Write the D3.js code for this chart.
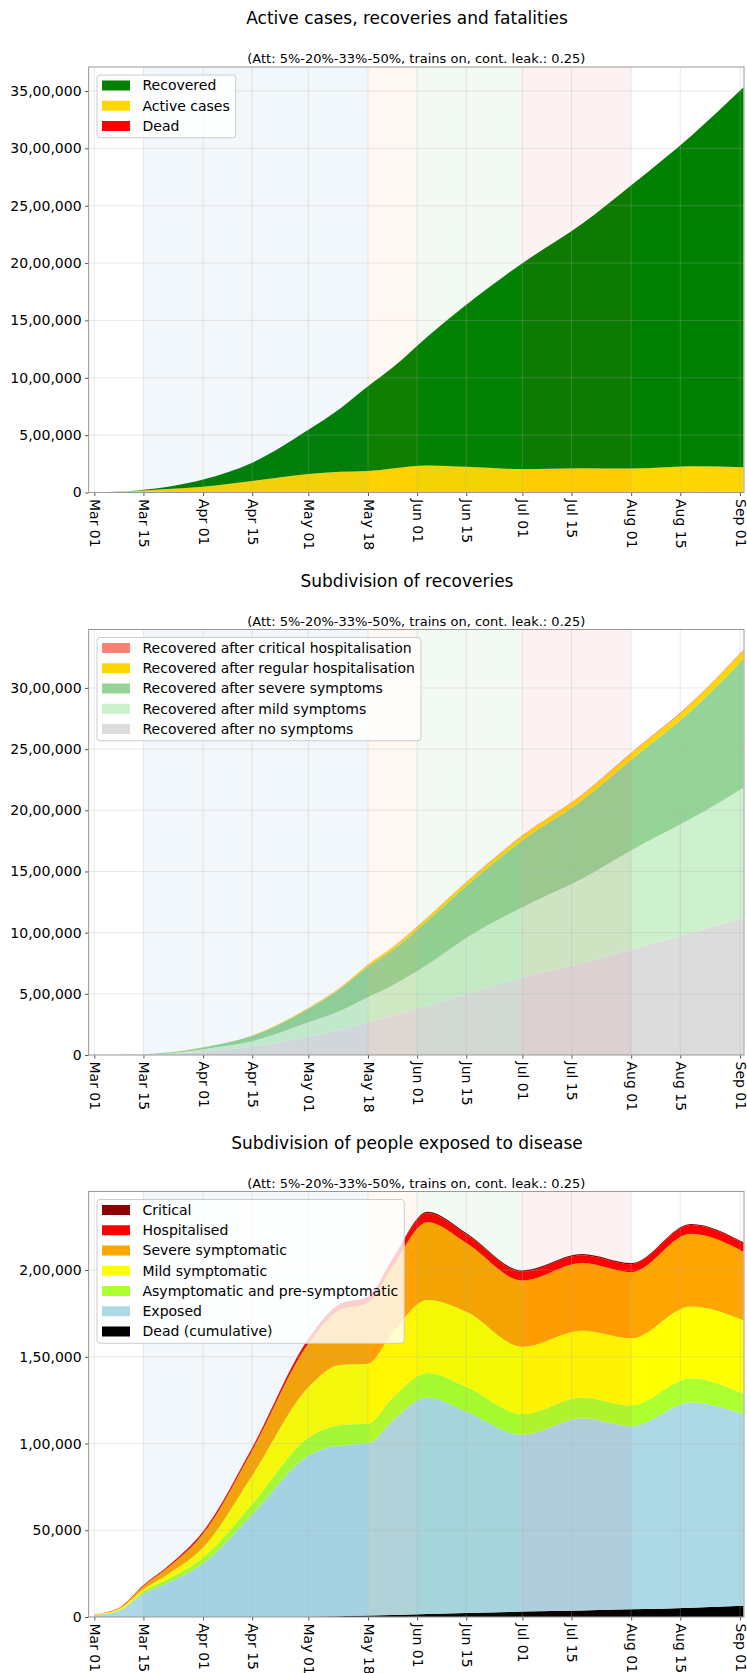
<html>
<head>
<meta charset="utf-8">
<script src="https://d3js.org/d3.v7.min.js"></script>
<style>
body { margin: 0; background: #fff; }
text { font-family: "DejaVu Sans", sans-serif; fill: #000; }
</style>
</head>
<body>
<div id="charts"></div>
<script>
const dates = ["2020-03-01","2020-03-08","2020-03-15","2020-03-22","2020-04-01","2020-04-15","2020-05-01","2020-05-10","2020-05-18",
               "2020-05-25","2020-06-04","2020-06-15","2020-07-01","2020-07-18","2020-08-01","2020-08-18","2020-09-02"];

// chart 1 : active cases, recoveries and fatalities
const dead      = [0,0,0,0,0,50,200,500,900,1200,1700,2300,3100,3800,4400,5400,6500];
const active    = [1600,5200,18500,29500,50000,100000,162000,180000,186000,208000,234000,222000,201000,208000,204000,224000,214000];
const recovered = [0,300,5000,20000,63000,160000,385000,550000,739000,880000,1125000,1413000,1795000,2130000,2470000,2877000,3312000];

// chart 2 : subdivision of recoveries
const recNoSymptoms = [0,0,2000,7000,30000,68000,150000,205000,267000,320000,400000,499000,635000,750000,862000,995000,1121000];
const recMild       = [0,100,1500,6000,18000,44000,117000,155000,205000,250000,340000,458000,573000,690000,810000,935000,1064000];
const recSevere     = [0,200,1400,6600,13800,44500,110000,178500,251000,290700,360000,424200,546200,641400,741500,881500,1052400];
const recRegular    = [0,0,100,300,1000,3000,7000,10000,14000,17000,22000,28000,36000,43000,50000,58000,66000];
const recCritical   = [0,0,0,100,200,500,1000,1500,2000,2300,3000,3800,4800,5600,6500,7500,8600];

// chart 3 : subdivision of people exposed to disease
const exposed   = [1000,3500,13500,19800,30800,59000,92800,98500,99100,112100,124800,116000,101900,110700,105600,118300,110500];
const asymp     = [100,500,1500,2000,3500,6000,10300,11600,11500,13100,14200,14400,12000,12100,12000,13900,11500];
const mildSymp  = [200,500,1000,2900,5700,16500,29100,34700,34500,37600,42100,43300,38800,38400,38700,41400,42500];
const sevSymp   = [200,500,1900,3800,8000,14500,25200,31700,35000,38000,44700,39600,38200,39000,38100,41900,39600];
const hospital  = [100,200,500,800,1200,1400,2300,2800,3000,3800,5300,5000,5000,4500,4500,5000,4700];
const critical  = [0,0,50,100,200,300,500,600,600,700,800,800,800,700,700,700,700];

// axis ticks
const xTicks = ["2020-03-01","2020-03-15","2020-04-01","2020-04-15","2020-05-01","2020-05-18","2020-06-01",
                "2020-06-15","2020-07-01","2020-07-15","2020-08-01","2020-08-15","2020-09-01"];
const yTicks1 = [0,500000,1000000,1500000,2000000,2500000,3000000,3500000];
const yTicks2 = [0,500000,1000000,1500000,2000000,2500000,3000000];
const yTicks3 = [0,50000,100000,150000,200000];

// lockdown phases shaded in the background
const phaseStart = ["2020-03-15","2020-05-18","2020-06-01","2020-07-01"];
const phaseEnd   = ["2020-05-18","2020-06-01","2020-07-01","2020-08-01"];
const phaseColor = ["#1f77b4","#ff7f0e","#2ca02c","#d62728"];

const subtitle = "(Att: 5%-20%-33%-50%, trains on, cont. leak.: 0.25)";

const parse = d3.timeParse("%Y-%m-%d");
const left = 88.6, right = 744, h = 425.5;

const svg = d3.select("#charts").append("svg")
    .attr("width", 747)
    .attr("height", 1673);

const x = d3.scaleTime()
    .domain([new Date(2020,1,28,9), new Date(2020,8,2,3,36)])
    .range([left, right]);

// 35,00,000 style grouping
function fmtIN(v) {
  let s = String(Math.round(v));
  if (s.length <= 3) return s;
  let rest = s.slice(0, -3).replace(/\B(?=(\d{2})+(?!\d))/g, ",");
  return rest + "," + s.slice(-3);
}

function drawChart(idx, top, title, layers, names, colors, yTicks) {
  const g = svg.append("g").attr("transform", "translate(0," + top + ")");

  const rows = dates.map((d, i) => {
    const r = {date: parse(d)};
    layers.forEach((l, j) => r[j] = l[i]);
    return r;
  });
  const series = d3.stack().keys(layers.map((l, j) => j))(rows);
  const ymax = d3.max(series[series.length - 1], d => d[1]) * 1.05;
  const y = d3.scaleLinear().domain([0, ymax]).range([h, 0]);

  g.append("clipPath").attr("id", "clip" + idx)
    .append("rect").attr("x", left).attr("y", 0).attr("width", right - left).attr("height", h);

  const plot = g.append("g").attr("clip-path", "url(#clip" + idx + ")");

  const area = d3.area()
    .x(d => x(d.data.date))
    .y0(d => y(d[0]))
    .y1(d => y(d[1]))
    .curve(d3.curveMonotoneX);

  plot.selectAll("path.layer")
    .data(series)
    .enter()
    .append("path")
    .attr("class", "layer")
    .attr("d", area)
    .style("fill", (d, i) => colors[i]);

  // phase bands over the areas
  plot.selectAll("rect.band")
    .data(phaseStart)
    .enter()
    .append("rect")
    .attr("x", d => x(parse(d)))
    .attr("width", (d, i) => x(parse(phaseEnd[i])) - x(parse(d)))
    .attr("y", 0)
    .attr("height", h)
    .style("fill", (d, i) => phaseColor[i])
    .style("fill-opacity", 0.06);

  // grid
  plot.selectAll("line.vg")
    .data(xTicks)
    .enter()
    .append("line")
    .attr("x1", d => x(parse(d))).attr("x2", d => x(parse(d)))
    .attr("y1", 0).attr("y2", h)
    .style("stroke", "#b0b0b0").style("stroke-opacity", 0.35).style("stroke-width", 0.8);
  plot.selectAll("line.hg")
    .data(yTicks)
    .enter()
    .append("line")
    .attr("x1", left).attr("x2", right)
    .attr("y1", d => y(d)).attr("y2", d => y(d))
    .style("stroke", "#b0b0b0").style("stroke-opacity", 0.35).style("stroke-width", 0.8);

  // axes
  const ya = g.append("g").attr("transform", "translate(" + left + ",0)")
    .call(d3.axisLeft(y).tickValues(yTicks).tickFormat(fmtIN).tickSize(3.5).tickPadding(3.5));
  const xa = g.append("g").attr("transform", "translate(0," + h + ")")
    .call(d3.axisBottom(x).tickValues(xTicks.map(parse)).tickFormat(d3.timeFormat("%b %d")).tickSize(3.5));
  [ya, xa].forEach(a => {
    a.select(".domain").remove();
    a.selectAll("line").style("stroke", "#555");
    a.selectAll("text").style("font-size", "14px").style("font-family", "DejaVu Sans").style("fill", "#000");
  });
  xa.selectAll("text")
    .attr("transform", "rotate(90)")
    .attr("x", 6.5)
    .attr("y", 0)
    .attr("dy", "0.35em")
    .style("text-anchor", "start");

  g.append("rect")
    .attr("x", left).attr("y", 0).attr("width", right - left).attr("height", h)
    .style("fill", "none").style("stroke", "#999").style("stroke-width", 1);

  // titles
  g.append("text")
    .attr("x", 407).attr("y", -43)
    .style("text-anchor", "middle").style("font-size", "17px")
    .text(title);
  g.append("text")
    .attr("x", (left + right) / 2).attr("y", -4)
    .style("text-anchor", "middle").style("font-size", "13px")
    .text(subtitle);

  // legend, top layer first
  const leg = g.append("g").attr("transform", "translate(97,8)");
  const box = leg.append("rect")
    .attr("rx", 3)
    .style("fill", "#fff").style("fill-opacity", 0.8)
    .style("stroke", "#ccc").style("stroke-width", 1);
  const order = names.map((n, i) => i).reverse();
  let wmax = 0;
  order.forEach((k, r) => {
    const cy = 10.5 + r * 20.25;
    leg.append("rect")
      .attr("x", 5).attr("y", cy - 5).attr("width", 28).attr("height", 10)
      .style("fill", colors[k]);
    const t = leg.append("text")
      .attr("x", 45.5).attr("y", cy).attr("dy", "0.35em")
      .style("font-size", "14px")
      .text(names[k]);
    wmax = Math.max(wmax, t.node().getComputedTextLength());
  });
  box.attr("width", 45.5 + wmax + 6).attr("height", order.length * 20.25 + 2);
}

drawChart(1, 67, "Active cases, recoveries and fatalities",
  [dead, active, recovered],
  ["Dead", "Active cases", "Recovered"],
  ["#ff0000", "#ffd700", "#008000"], yTicks1);

drawChart(2, 629.5, "Subdivision of recoveries",
  [recNoSymptoms, recMild, recSevere, recRegular, recCritical],
  ["Recovered after no symptoms", "Recovered after mild symptoms", "Recovered after severe symptoms",
   "Recovered after regular hospitalisation", "Recovered after critical hospitalisation"],
  ["#dcdcdc", "#cdf0cd", "#96d396", "#ffd700", "#fa8072"], yTicks2);

drawChart(3, 1191.5, "Subdivision of people exposed to disease",
  [dead, exposed, asymp, mildSymp, sevSymp, hospital, critical],
  ["Dead (cumulative)", "Exposed", "Asymptomatic and pre-symptomatic", "Mild symptomatic",
   "Severe symptomatic", "Hospitalised", "Critical"],
  ["#000000", "#add8e6", "#adff2f", "#ffff00", "#ffa500", "#ff0000", "#8b0000"], yTicks3);
</script>
</body>
</html>
